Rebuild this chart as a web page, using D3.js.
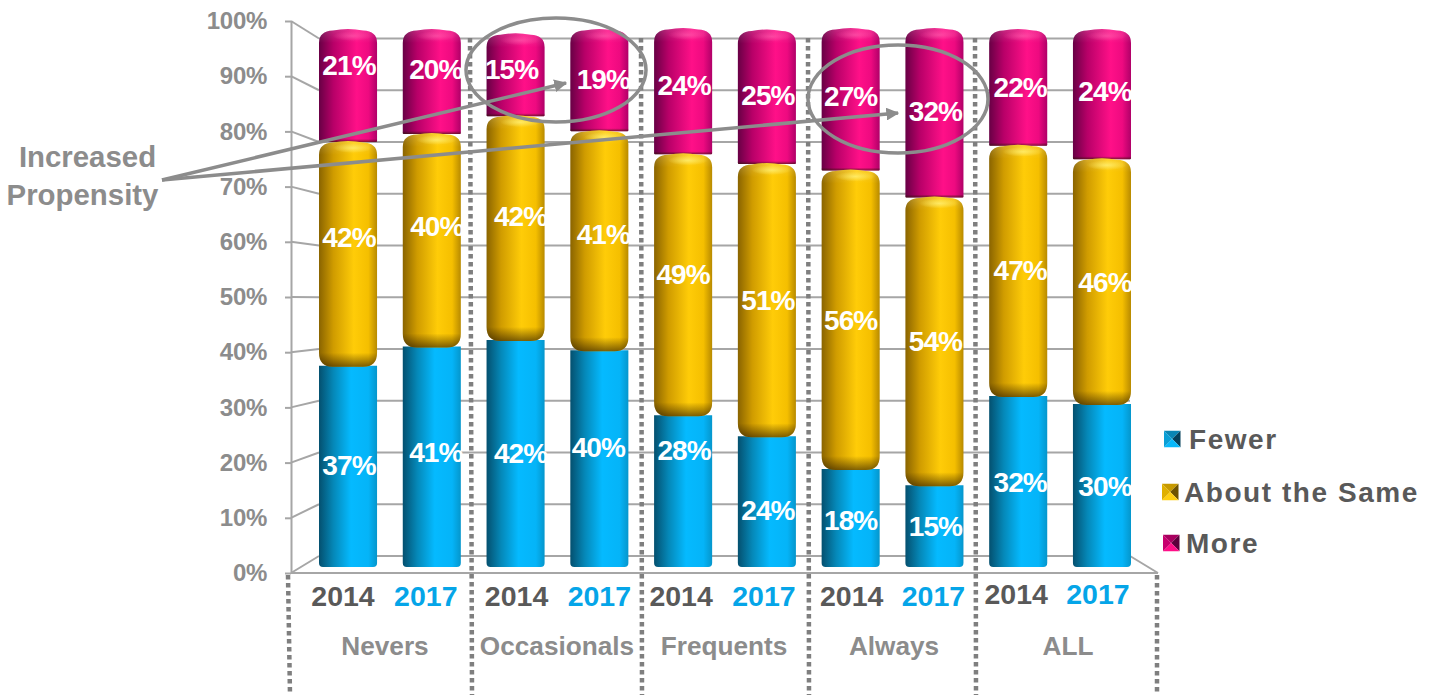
<!DOCTYPE html>
<html>
<head>
<meta charset="utf-8">
<script src="https://cdnjs.cloudflare.com/ajax/libs/d3/7.8.5/d3.min.js"></script>
<style>
  body { margin: 0; background: #fff; }
  text { font-family: "Liberation Sans", Arial, sans-serif; font-weight: bold; }
</style>
</head>
<body>
<svg id="chart" width="1435" height="698"></svg>
<script>
// values
const groups = ["Nevers", "Occasionals", "Frequents", "Always", "ALL"];
const years = ["2014", "2017"];
const seriesNames = ["Fewer", "About the Same", "More"];
const fewer = [37.4, 41, 42.2, 40.3, 28.2, 24.3, 18.2, 15.2, 31.8, 30.3];
const aboutSame = [41.6, 39.5, 41.6, 40.7, 48.5, 50.6, 55.5, 53.5, 46.5, 45.5];
const more = [21, 19.5, 15.4, 19, 23.5, 25, 26.5, 31.5, 21.7, 24.2];
const yTicks = [0, 10, 20, 30, 40, 50, 60, 70, 80, 90, 100];
const annotation = ["Increased", "Propensity"];

const grey = "#8c8c8c", gridGrey = "#a6a6a6", darkText = "#595959", blueText = "#05a5e8";

// hand placed labels in the original, so they carry small nudges
const labelDy = [
  [-1, -5, 0, -11, -41, 9, 2, 0, 1, 1],
  [-17, -14, -12, -7, -11, 0, 0, 0, -1, 1],
  [-20, -12, -6, -1, -6, -2, -3, -1, 0, -3]
];
const labelDx = [
  [1, 4, 5, -1, 1, 1, 0, 1, 2, 3],
  [1, 5, 5, 4, 0, 1, 0, 1, 2, 3],
  [1, 4, -4, 4, 1, 1, 0, 1, 2, 3]
];
const yearDx = [-5, -6, 1, 0, -2, -3, 1, -1, -2, -4];

const svg = d3.select("#chart");
const defs = svg.append("defs");

const barIds = d3.range(fewer.length);
const x = d3.scaleBand().domain(barIds).range([319, 1131]).paddingInner(0.307);
const yBar = d3.scaleLinear().domain([0, 100]).range([567, 29]);
const yFront = d3.scaleLinear().domain([0, 100]).range([573, 21]);
const yBack = d3.scaleLinear().domain([0, 100]).range([556, 38.5]);
const frontX = 291, backX = 319, backRight = 1130, frontRight = 1158;

function cylinder(id, stops) {
  const g = defs.append("linearGradient").attr("id", id);
  stops.forEach(s => g.append("stop").attr("offset", s[0]).attr("stop-color", s[1]));
}
cylinder("cylFewer", [[0, "#04506f"], [0.25, "#0588b8"], [0.55, "#05baff"], [0.85, "#05b4f8"], [1, "#0596cc"]]);
cylinder("cylSame", [[0, "#8a6400"], [0.25, "#d09c00"], [0.6, "#ffcc08"], [0.85, "#f5bf00"], [1, "#b88a00"]]);
cylinder("cylMore", [[0, "#680045"], [0.25, "#b80068"], [0.65, "#ff1088"], [0.85, "#ee0a80"], [1, "#b00068"]]);

function fade(id, colour, o1, o2) {
  const g = defs.append("linearGradient").attr("id", id).attr("x1", 0).attr("x2", 0).attr("y1", 0).attr("y2", 1);
  g.append("stop").attr("offset", 0).attr("stop-color", colour).attr("stop-opacity", o1);
  g.append("stop").attr("offset", 1).attr("stop-color", colour).attr("stop-opacity", o2);
}
fade("topShine", "#fff", 0.16, 0);
fade("bottomShade", "#2a1800", 0, 0.6);
const glow = defs.append("radialGradient").attr("id", "glow");
glow.append("stop").attr("offset", 0).attr("stop-color", "#fff27a").attr("stop-opacity", 0.75);
glow.append("stop").attr("offset", 1).attr("stop-color", "#fff27a").attr("stop-opacity", 0);
const glowPink = defs.append("radialGradient").attr("id", "glowPink");
glowPink.append("stop").attr("offset", 0).attr("stop-color", "#ff5fae").attr("stop-opacity", 0.6);
glowPink.append("stop").attr("offset", 1).attr("stop-color", "#ff5fae").attr("stop-opacity", 0);

// back wall grid and the side wall diagonals
svg.append("g").selectAll("line").data(yTicks).join("line")
  .attr("x1", backX).attr("x2", backRight)
  .attr("y1", d => yBack(d)).attr("y2", d => yBack(d))
  .attr("stroke", gridGrey).attr("stroke-width", 2);
svg.append("g").selectAll("line").data(yTicks).join("line")
  .attr("x1", frontX).attr("x2", backX)
  .attr("y1", d => yFront(d)).attr("y2", d => yBack(d))
  .attr("stroke", gridGrey).attr("stroke-width", 2);

// floor
svg.append("line").attr("x1", frontX).attr("x2", frontRight).attr("y1", yFront(0)).attr("y2", yFront(0))
  .attr("stroke", gridGrey).attr("stroke-width", 2);
svg.append("line").attr("x1", backRight).attr("x2", frontRight).attr("y1", yBack(0)).attr("y2", yFront(0))
  .attr("stroke", gridGrey).attr("stroke-width", 2);

// y axis
const yAxis = d3.axisLeft(yFront).tickValues(yTicks).tickFormat(d => d + "%").tickSize(6).tickPadding(18).tickSizeOuter(0);
const yG = svg.append("g").attr("transform", `translate(${frontX},0)`).call(yAxis);
yG.selectAll("path,line").attr("stroke", gridGrey).attr("stroke-width", 2);
yG.selectAll("text").attr("fill", grey)
  .style("font-size", "24px").style("letter-spacing", "-0.3px").style("font-family", '"Liberation Sans"');

// dotted dividers
const dividers = [
  [288, 575, 290, 695], [470, 38, 472, 695], [641, 38, 642, 695],
  [808, 38, 809, 695], [975, 38, 976, 695], [1157, 575, 1157, 695]
];
svg.append("g").selectAll("line").data(dividers).join("line")
  .attr("x1", d => d[0]).attr("y1", d => d[1]).attr("x2", d => d[2]).attr("y2", d => d[3])
  .attr("stroke", "#7f7f7f").attr("stroke-width", 4.5).attr("stroke-dasharray", "4.5 3.5");

// segment outline: domed top, rounded bottom, separate radii
function seg(x0, x1, y0, y1, rt, rb) {
  const m = (x0 + x1) / 2;
  const top = rt
    ? `M${x0},${y0 + rt}Q${x0},${y0 + 2} ${x0 + rt},${y0 + 1.5}Q${m},${y0 - 1.5} ${x1 - rt},${y0 + 1.5}Q${x1},${y0 + 2} ${x1},${y0 + rt}`
    : `M${x0},${y0}L${x1},${y0}`;
  return top + `L${x1},${y1 - rb}Q${x1},${y1} ${x1 - rb},${y1}L${x0 + rb},${y1}Q${x0},${y1} ${x0},${y1 - rb}Z`;
}

const stack = d3.stack().keys([0, 1, 2]).value((d, k) => [fewer, aboutSame, more][k][d])(barIds);
const segStyle = [
  { fill: "url(#cylFewer)", rt: 0, rb: 4, over: 0, shine: 0, shade: 0 },
  { fill: "url(#cylSame)", rt: 14, rb: 14, over: 1, shine: 14, shade: 14, glow: "url(#glow)" },
  { fill: "url(#cylMore)", rt: 14, rb: 1, over: 0, shine: 14, shade: 3, glow: "url(#glowPink)" }
];

// blue, pink, then gold so that the gold end caps lie over both neighbours
[0, 2, 1].forEach(k => {
  const st = segStyle[k];
  const g = svg.append("g");
  stack[k].forEach((d, i) => {
    const x0 = x(i), x1 = x(i) + x.bandwidth();
    const top = yBar(d[1]) - st.over, bot = yBar(d[0]) + st.over;
    g.append("path").attr("d", seg(x0, x1, top, bot, st.rt, st.rb)).attr("fill", st.fill);
    if (st.shine) {
      g.append("path").attr("d", seg(x0, x1, top, top + st.shine, st.rt, 0)).attr("fill", "url(#topShine)");
      g.append("ellipse").attr("cx", x0 + x.bandwidth() * 0.58).attr("cy", top + 7)
        .attr("rx", 20).attr("ry", 5).attr("fill", st.glow);
    }
    if (st.shade) {
      g.append("path").attr("d", seg(x0, x1, bot - st.shade, bot, 0, st.rb)).attr("fill", "url(#bottomShade)");
    }
  });
});

// data labels
stack.forEach((layer, k) => {
  svg.append("g").selectAll("text").data(layer).join("text")
    .attr("x", (d, i) => x(i) + x.bandwidth() / 2 + labelDx[k][i])
    .attr("y", (d, i) => (yBar(d[0]) + yBar(d[1])) / 2 + labelDy[k][i])
    .attr("dy", "0.35em").attr("text-anchor", "middle")
    .attr("fill", "#fff").style("font-size", "28px").style("letter-spacing", "-0.9px")
    .text((d, i) => Math.round([fewer, aboutSame, more][k][i]) + "%");
});

// year labels
const xAxis = d3.axisBottom(x).tickSize(0).tickFormat(i => years[i % 2]);
const xG = svg.append("g").attr("transform", "translate(0,573)").call(xAxis);
xG.select(".domain").remove();
xG.selectAll("text")
  .attr("dx", i => yearDx[i])
  .attr("y", i => i > 7 ? 21 : 23).attr("dy", "0.35em")
  .attr("fill", i => i % 2 ? blueText : darkText)
  .style("font-size", "28.5px").style("font-family", '"Liberation Sans"');

// group labels
const groupCentre = [385, 557, 724, 894, 1068];
svg.append("g").selectAll("text").data(groups).join("text")
  .attr("x", (d, i) => groupCentre[i]).attr("y", 646).attr("dy", "0.35em")
  .attr("text-anchor", "middle").attr("fill", grey).style("font-size", "26.2px")
  .text(d => d);

// annotation
defs.append("marker").attr("id", "arrow").attr("viewBox", "0 0 10 10").attr("refX", 9).attr("refY", 5)
  .attr("markerWidth", 13).attr("markerHeight", 13).attr("markerUnits", "userSpaceOnUse").attr("orient", "auto")
  .append("path").attr("d", "M0,0L10,5L0,10Z").attr("fill", grey);
svg.append("g").selectAll("line").data([[566, 83], [898, 113]]).join("line")
  .attr("x1", 162).attr("y1", 180).attr("x2", d => d[0]).attr("y2", d => d[1])
  .attr("stroke", grey).attr("stroke-width", 3.5).attr("marker-end", "url(#arrow)");
svg.append("g").selectAll("ellipse").data([[556, 70, 90, 52], [898, 99, 90, 54]]).join("ellipse")
  .attr("cx", d => d[0]).attr("cy", d => d[1]).attr("rx", d => d[2]).attr("ry", d => d[3])
  .attr("fill", "none").attr("stroke", grey).attr("stroke-width", 3.5);
svg.append("g").selectAll("text").data(annotation).join("text")
  .attr("x", (d, i) => i ? 82.5 : 87.5).attr("y", (d, i) => 157 + i * 38).attr("dy", "0.35em")
  .attr("text-anchor", "middle").attr("fill", grey)
  .style("font-size", "29.4px")
  .text(d => d);

// legend with little pyramid swatches
const legendPos = [[1164, 439, 1189], [1162, 492, 1184], [1163, 543, 1186]];
const swatchFaces = [
  ["#0a86b4", "#0a9fd6", "#05405a", "#08b8fa"],
  ["#c79a00", "#e0b000", "#6f5400", "#ffcf10"],
  ["#a8005f", "#c8006f", "#5c003c", "#ff0f88"]
];
const s = 16.5;
seriesNames.forEach((name, k) => {
  const [sx, cy, tx] = legendPos[k];
  const g = svg.append("g").attr("transform", `translate(${sx},${cy - s / 2})`);
  const c = [s / 2, s / 2];
  [[[0, 0], [s, 0]], [[0, 0], [0, s]], [[s, 0], [s, s]], [[0, s], [s, s]]].forEach((p, j) => {
    g.append("path").attr("d", d3.line()([p[0], p[1], c]) + "Z").attr("fill", swatchFaces[k][j]);
  });
  svg.append("text").attr("x", tx).attr("y", cy).attr("dy", "0.35em")
    .attr("fill", darkText).style("font-size", "28px").style("letter-spacing", "1.55px")
    .text(name);
});
</script>
</body>
</html>
